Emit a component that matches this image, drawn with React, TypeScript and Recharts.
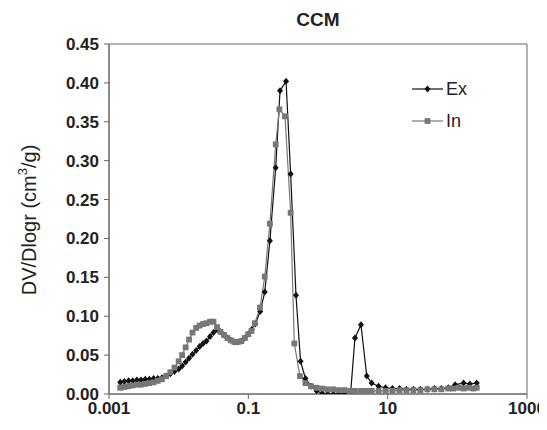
import React from "react"
import {
  LineChart, Line, XAxis, YAxis, ReferenceArea
} from "recharts"

// pore radius (x) and DV/Dlogr values
const exX = [
  0.00145, 0.00166, 0.00191, 0.00219, 0.00251, 0.00288, 0.00331, 0.0038, 0.00437, 0.00501,
  0.00575, 0.0066, 0.00759, 0.00871, 0.01, 0.0112, 0.0126, 0.0141, 0.0158, 0.0178,
  0.02, 0.0224, 0.0251, 0.0282, 0.0316, 0.0355, 0.0398, 0.0447, 0.0501, 0.0562,
  0.0631, 0.0708, 0.0794, 0.0891, 0.1, 0.112, 0.126, 0.148, 0.172, 0.204,
  0.247, 0.285, 0.348, 0.405, 0.483, 0.562, 0.66, 0.794, 0.955, 1.15,
  1.38, 1.66, 2.0, 2.4, 2.95, 3.39, 4.14, 5.01, 5.89, 7.41,
  9.33, 11.7, 14.8, 18.6, 23.4, 29.5, 37.2, 46.8, 58.9, 74.1,
  93, 123, 151, 190,
]
const exY = [
  0.015, 0.016, 0.017, 0.017, 0.018, 0.018, 0.019, 0.019, 0.020, 0.020,
  0.021, 0.023, 0.026, 0.029, 0.032, 0.036, 0.041, 0.046, 0.051, 0.056,
  0.061, 0.065, 0.068, 0.074, 0.079, 0.083, 0.080, 0.076, 0.072, 0.069,
  0.067, 0.067, 0.068, 0.072, 0.077, 0.083, 0.090, 0.106, 0.131, 0.197,
  0.291, 0.390, 0.402, 0.283, 0.127, 0.042, 0.020, 0.010, 0.004, 0.001,
  0.0, 0.0, 0.0, 0.001, 0.003, 0.072, 0.089, 0.023, 0.014, 0.010,
  0.008, 0.007, 0.007, 0.006, 0.006, 0.006, 0.006, 0.007, 0.007, 0.008,
  0.012, 0.014, 0.013, 0.014,
]

const inX = [
  0.00145, 0.00166, 0.00191, 0.00219, 0.00251, 0.00288, 0.00331, 0.0038, 0.00437, 0.00501,
  0.00575, 0.0066, 0.00759, 0.00871, 0.01, 0.0112, 0.0126, 0.0141, 0.0158, 0.0178,
  0.02, 0.0224, 0.0251, 0.0282, 0.0316, 0.0355, 0.0398, 0.0447, 0.0501, 0.0562,
  0.0631, 0.0708, 0.0794, 0.0891, 0.1, 0.111, 0.124, 0.147, 0.172, 0.204,
  0.247, 0.279, 0.336, 0.405, 0.457, 0.55, 0.66, 0.794, 0.955, 1.15,
  1.38, 1.66, 2.0, 2.4, 2.88, 3.39, 4.14, 5.01, 5.89, 7.41,
  9.33, 11.7, 14.8, 18.6, 23.4, 29.5, 37.2, 46.8, 58.9, 74.1,
  87, 105, 123, 145, 170, 190,
]
const inY = [
  0.008, 0.009, 0.010, 0.011, 0.012, 0.012, 0.013, 0.014, 0.015, 0.017,
  0.019, 0.023, 0.028, 0.034, 0.042, 0.050, 0.060, 0.070, 0.079, 0.085,
  0.088, 0.090, 0.091, 0.093, 0.093, 0.086, 0.080, 0.076, 0.072, 0.069,
  0.067, 0.067, 0.068, 0.072, 0.077, 0.081, 0.091, 0.111, 0.151, 0.219,
  0.321, 0.366, 0.357, 0.233, 0.065, 0.023, 0.014, 0.010, 0.008, 0.007,
  0.006, 0.006, 0.005, 0.005, 0.004, 0.004, 0.004, 0.004, 0.004, 0.004,
  0.004, 0.004, 0.005, 0.005, 0.005, 0.005, 0.006, 0.006, 0.006, 0.007,
  0.007, 0.008, 0.007, 0.008, 0.007, 0.008,
]

const xTicks = [0.001, 0.1, 10, 1000]
const yTicks = [0, 0.05, 0.1, 0.15, 0.2, 0.25, 0.3, 0.35, 0.4, 0.45]

const exData = exX.map((x, i) => ({ x, y: exY[i] }))
const inData = inX.map((x, i) => ({ x, y: inY[i] }))

const FONT = "'Liberation Sans', Arial, sans-serif"
const AXIS = "#666"
const EX_COLOR = "#111"
const IN_COLOR = "#777"

function Diamond({ cx, cy }: any) {
  if (cx == null || cy == null) return null
  return (
    <polygon
      points={`${cx},${cy - 3.5} ${cx + 3},${cy} ${cx},${cy + 3.5} ${cx - 3},${cy}`}
      fill={EX_COLOR}
    />
  )
}

function Square({ cx, cy }: any) {
  if (cx == null || cy == null) return null
  return <rect x={cx - 2.9} y={cy - 2.9} width={5.8} height={5.8} fill={IN_COLOR} />
}

function YLabel() {
  return (
    <text
      x={21}
      y={212}
      transform="rotate(-90, 21, 212)"
      textAnchor="middle"
      dominantBaseline="central"
      fontFamily={FONT}
      fontSize={20}
      fill="#222"
    >
      DV/Dlogr (cm
      <tspan fontSize={13} dy={-7}>3</tspan>
      <tspan dy={7}>/g)</tspan>
    </text>
  )
}

function LegendBox() {
  return (
    <svg width={110} height={64} style={{ position: "absolute", left: 400, top: 65 }}>
      <line x1={4} x2={35} y1={16} y2={16} stroke={EX_COLOR} strokeWidth={1.2} />
      <Diamond cx={19.5} cy={16} />
      <text x={38} y={16} dy="0.36em" fontFamily={FONT} fontSize={18} fill="#222">Ex</text>
      <line x1={4} x2={35} y1={48} y2={48} stroke={IN_COLOR} strokeWidth={1.2} />
      <Square cx={19.5} cy={48} />
      <text x={38} y={48} dy="0.36em" fontFamily={FONT} fontSize={18} fill="#222">In</text>
    </svg>
  )
}

export default function App() {
  const tickStyle = { fontFamily: FONT, fontSize: 17, fontWeight: "bold", fill: "#222" }
  return (
    <div style={{ position: "relative", width: 539, height: 422 }}>
      <div
        style={{
          position: "absolute", left: 101, width: 418, top: 1, textAlign: "center",
          fontFamily: FONT, fontWeight: "bold", fontSize: 19, color: "#222",
        }}
      >
        CCM
      </div>
      <LineChart width={539} height={422} margin={{ top: 36, right: 20, left: 41, bottom: 6 }}>
        <XAxis
          dataKey="x"
          type="number"
          scale="log"
          domain={[0.001, 1000]}
          allowDataOverflow
          ticks={xTicks}
          tickFormatter={(v: number) => String(v)}
          height={30}
          tick={tickStyle}
          tickSize={5}
          tickMargin={3}
          stroke={AXIS}
        />
        <YAxis
          type="number"
          domain={[0, 0.45]}
          allowDataOverflow
          ticks={yTicks}
          tickFormatter={(v: number) => v.toFixed(2)}
          width={60}
          tick={tickStyle}
          tickSize={5}
          tickMargin={5}
          stroke={AXIS}
          label={{ content: YLabel }}
        />
        <ReferenceArea x1={0.001} x2={1000} y1={0} y2={0.45} fill="none" stroke={AXIS} strokeWidth={1} />
        <Line
          data={exData}
          dataKey="y"
          name="Ex"
          stroke={EX_COLOR}
          strokeWidth={1.2}
          dot={<Diamond />}
          activeDot={false}
          isAnimationActive={false}
        />
        <Line
          data={inData}
          dataKey="y"
          name="In"
          stroke={IN_COLOR}
          strokeWidth={1.2}
          dot={<Square />}
          activeDot={false}
          isAnimationActive={false}
        />
      </LineChart>
      <LegendBox />
    </div>
  )
}
